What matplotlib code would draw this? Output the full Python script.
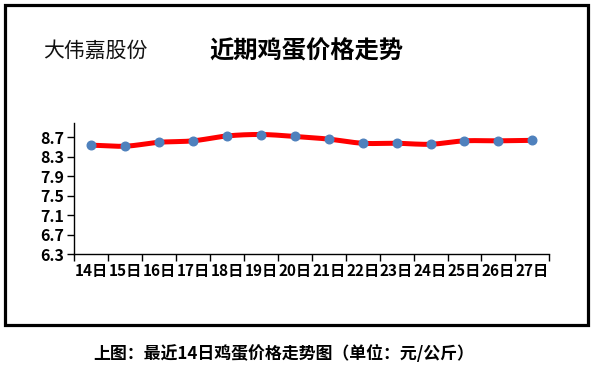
import numpy as np
import matplotlib
matplotlib.use("Agg")
import matplotlib.pyplot as plt
from matplotlib.patches import Rectangle

plt.rcParams['font.family'] = ['Noto Sans CJK SC', 'DejaVu Sans']

# ---- data ----
categories = ["14日", "15日", "16日", "17日", "18日", "19日", "20日",
              "21日", "22日", "23日", "24日", "25日", "26日", "27日"]
prices = [8.54, 8.52, 8.60, 8.63, 8.73, 8.76, 8.72,
          8.665, 8.58, 8.58, 8.56, 8.63, 8.63, 8.64]
y_ticks = [6.3, 6.7, 7.1, 7.5, 7.9, 8.3, 8.7]
y_tick_labels = ["6.3", "6.7", "7.1", "7.5", "7.9", "8.3", "8.7"]
company = "大伟嘉股份"
title = "近期鸡蛋价格走势"
caption = "上图：最近14日鸡蛋价格走势图（单位：元/公斤）"

W, H = 594, 367
fig = plt.figure(figsize=(W / 100, H / 100), dpi=100)

# outer frame
fig.patches.append(Rectangle((4.5 / W, 1 - 324.5 / H), 583 / W, 320 / H,
                             transform=fig.transFigure, fill=False,
                             edgecolor='black', linewidth=2.3))

ax = fig.add_axes([74.3 / W, 1 - 254.3 / H, 475 / W, 131 / H])
x = np.arange(len(categories))

# smooth (Catmull-Rom) curve through the points
def catmull(xs, ys, n=20):
    px = np.concatenate([[2 * xs[0] - xs[1]], xs, [2 * xs[-1] - xs[-2]]])
    py = np.concatenate([[ys[0]], ys, [ys[-1]]])
    ox, oy = [], []
    t = np.linspace(0, 1, n, endpoint=False)
    for i in range(1, len(px) - 2):
        p0, p1, p2, p3 = [np.array([px[j], py[j]]) for j in (i - 1, i, i + 1, i + 2)]
        for tt in t:
            pt = 0.5 * ((2 * p1) + (-p0 + p2) * tt +
                        (2 * p0 - 5 * p1 + 4 * p2 - p3) * tt ** 2 +
                        (-p0 + 3 * p1 - 3 * p2 + p3) * tt ** 3)
            ox.append(pt[0]); oy.append(pt[1])
    ox.append(xs[-1]); oy.append(ys[-1])
    return np.array(ox), np.array(oy)

sx, sy = catmull(x.astype(float), np.array(prices))
ax.plot(sx, sy, color='#ff0000', linewidth=3.6, solid_capstyle='round', zorder=2)
ax.plot(x, prices, linestyle='none', marker='o', markersize=6.2,
        markerfacecolor='#4f81bd', markeredgecolor='#4f81bd', zorder=3)

ax.set_xlim(-0.5, len(categories) - 0.5)
ax.set_ylim(6.3, 8.99)
for s in ('top', 'right'):
    ax.spines[s].set_visible(False)
for s in ('left', 'bottom'):
    ax.spines[s].set_linewidth(1.0)
    ax.spines[s].set_color('black')

ax.set_xticks(np.arange(-0.5, len(categories), 1.0))
ax.set_xticklabels([])
ax.set_xticks(x, minor=True)
ax.set_xticklabels(categories, minor=True, fontsize=11, fontweight='bold')
ax.tick_params(axis='x', which='major', direction='out', length=5, width=1)
ax.tick_params(axis='x', which='minor', length=0, pad=6)
ax.set_yticks(y_ticks)
ax.set_yticklabels(y_tick_labels, fontsize=11.5, fontweight='bold')
ax.tick_params(axis='y', direction='out', length=5, width=1, pad=2)

fig.text(43 / W, 1 - 51 / H, company, fontsize=15, ha='left', va='center', color='#111111')
fig.text(306 / W, 1 - 52 / H, title, fontsize=17.5, fontweight='bold', ha='center', va='center')
fig.text(284 / W, 1 - 354 / H, caption, fontsize=12.2, fontweight='bold', ha='center', va='center')

fig.savefig("out.png", dpi=100)
